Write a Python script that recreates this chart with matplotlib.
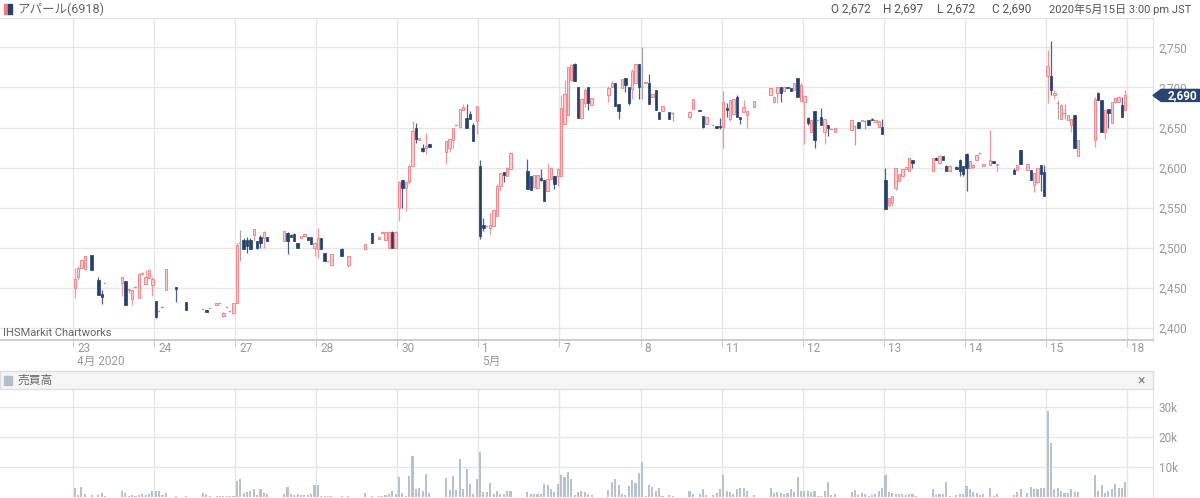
import matplotlib
matplotlib.use("Agg")
import matplotlib.pyplot as plt
from matplotlib.patches import Rectangle, Polygon
from matplotlib.ticker import FuncFormatter

plt.rcParams['font.family'] = ['Roboto', 'Noto Sans CJK JP', 'DejaVu Sans']

W, H = 1200, 498

day_labels = ["23", "24", "27", "28", "30", "1", "7", "8", "11", "12", "13", "14", "15", "18"]
month_labels = {0: "4月 2020", 5: "5月"}
price_ticks = [2400, 2450, 2500, 2550, 2600, 2650, 2700, 2750]
volume_ticks = [10, 20, 30]   # thousands

# 15 minute bars, 10 in the morning and 10 in the afternoon session
# (open, high, low, close), None where nothing traded
apr23 = [(2450, 2475, 2438, 2461), (2463, 2477, 2461, 2475), (2475, 2486, 2474, 2485), (2474, 2490, 2472, 2490), None,
         (2491, 2491, 2472, 2472), None, (2460, 2463, 2441, 2441), (2442, 2448, 2430, 2439), (2456, 2456, 2456, 2456),
         (2456, 2464, 2440, 2464), (2458, 2459, 2429, 2429), (2447, 2448, 2444, 2448), (2436, 2448, 2429, 2447), (2451, 2451, 2451, 2451),
         (2438, 2468, 2438, 2467), (2467, 2470, 2466, 2469), (2455, 2472, 2455, 2463), (2462, 2472, 2462, 2472), (2454, 2464, 2440, 2461)]
apr24 = [(2434, 2434, 2412, 2414), (2421, 2421, 2421, 2421), (2426, 2426, 2426, 2426), (2448, 2474, 2448, 2473), None,
         None, (2451, 2451, 2433, 2449), None, None, (2433, 2433, 2423, 2423),
         (2423, 2423, 2423, 2423), (2422, 2422, 2420, 2420), (2424, 2424, 2424, 2424), None, (2429, 2431, 2429, 2431),
         (2430, 2430, 2430, 2430), (2415, 2420, 2414, 2419), (2425, 2425, 2425, 2425), (2420, 2420, 2420, 2420), (2419, 2431, 2418, 2431)]
apr27 = [(2431, 2506, 2431, 2504), (2505, 2522, 2484, 2505), (2510, 2512, 2498, 2498), (2510, 2514, 2494, 2502), (2510, 2512, 2499, 2499),
         (2516, 2524, 2509, 2524), (2508, 2508, 2498, 2500), (2514, 2516, 2500, 2506), (2512, 2521, 2500, 2520), (2513, 2514, 2509, 2509),
         (2509, 2521, 2509, 2521), (2519, 2520, 2492, 2509), (2516, 2517, 2513, 2513), (2517, 2518, 2509, 2509), (2506, 2506, 2500, 2500),
         (2512, 2515, 2512, 2515), (2515, 2518, 2515, 2517), (2513, 2513, 2510, 2510), (2513, 2514, 2505, 2505), (2500, 2507, 2490, 2506)]
apr28 = [(2498, 2525, 2487, 2512), (2512, 2512, 2498, 2498), (2494, 2494, 2483, 2483), (2483, 2483, 2483, 2483), (2478, 2492, 2478, 2492),
         None, None, (2499, 2500, 2490, 2490), None, (2478, 2490, 2476, 2490),
         (2498, 2505, 2498, 2505), None, (2519, 2519, 2506, 2506), None, (2511, 2513, 2511, 2513),
         (2518, 2521, 2518, 2520), (2510, 2520, 2510, 2520), (2500, 2521, 2500, 2520), (2520, 2521, 2500, 2500), (2500, 2521, 2500, 2520)]
apr30 = [(2550, 2583, 2534, 2582), (2585, 2585, 2550, 2575), (2575, 2582, 2546, 2582), (2582, 2604, 2580, 2602), (2602, 2658, 2602, 2646),
         (2649, 2655, 2631, 2636), (2635, 2637, 2635, 2637), (2624, 2630, 2620, 2621), (2625, 2643, 2617, 2627), (2629, 2630, 2626, 2626),
         (2620, 2633, 2604, 2633), (2625, 2636, 2620, 2636), (2634, 2650, 2625, 2650), (2653, 2653, 2653, 2653), (2650, 2673, 2650, 2673),
         (2672, 2679, 2672, 2676), (2662, 2679, 2649, 2649), (2667, 2670, 2660, 2660), (2653, 2655, 2633, 2633), (2658, 2677, 2642, 2677)]
may01 = [(2602, 2609, 2511, 2515), (2528, 2537, 2521, 2525), (2527, 2527, 2527, 2527), (2525, 2543, 2517, 2529), (2527, 2547, 2527, 2547),
         (2540, 2580, 2540, 2577), (2577, 2593, 2571, 2593), (2594, 2594, 2582, 2591), (2590, 2601, 2589, 2600), (2598, 2619, 2598, 2618),
         (2596, 2611, 2573, 2573), (2590, 2590, 2572, 2572), (2576, 2591, 2576, 2591), (2575, 2591, 2575, 2591), (2587, 2598, 2583, 2584),
         (2584, 2584, 2558, 2558), (2571, 2606, 2571, 2586), (2586, 2599, 2586, 2599), (2590, 2590, 2573, 2579), (2590, 2600, 2577, 2598)]
may07 = [(2590, 2690, 2588, 2674), (2654, 2709, 2654, 2692), (2665, 2726, 2665, 2725), (2709, 2729, 2708, 2728), (2729, 2730, 2708, 2708),
         (2700, 2700, 2662, 2662), (2662, 2685, 2660, 2685), (2680, 2699, 2676, 2697), (2700, 2700, 2672, 2680), (2678, 2687, 2678, 2687),
         (2690, 2702, 2682, 2699), (2700, 2708, 2700, 2706), (2706, 2706, 2677, 2677), (2679, 2679, 2660, 2670), (2699, 2710, 2699, 2710),
         (2712, 2712, 2694, 2703), (2700, 2700, 2678, 2681), (2698, 2723, 2685, 2721), (2706, 2729, 2706, 2729), (2729, 2729, 2685, 2700)]
may08 = [(2700, 2750, 2685, 2700), (2705, 2707, 2705, 2707), (2705, 2717, 2679, 2679), (2688, 2692, 2688, 2692), (2697, 2697, 2672, 2672),
         (2669, 2669, 2660, 2660), (2670, 2677, 2670, 2677), None, (2669, 2669, 2661, 2661), (2668, 2669, 2658, 2668),
         (2663, 2670, 2660, 2669), (2673, 2686, 2673, 2686), None, (2672, 2672, 2670, 2670), (2664, 2664, 2649, 2650),
         (2654, 2663, 2654, 2663), None, (2652, 2652, 2652, 2652), (2652, 2652, 2649, 2649), (2652, 2662, 2648, 2650)]
may11 = [(2650, 2695, 2624, 2682), (2674, 2681, 2663, 2672), (2661, 2684, 2658, 2684), (2667, 2686, 2667, 2686), (2688, 2690, 2663, 2663),
         (2663, 2663, 2654, 2661), (2669, 2684, 2669, 2676), (2665, 2670, 2650, 2670), None, (2676, 2683, 2676, 2683),
         (2691, 2699, 2691, 2699), (2682, 2689, 2680, 2688), (2693, 2701, 2680, 2700), (2700, 2700, 2682, 2693), (2695, 2700, 2695, 2700),
         (2701, 2701, 2699, 2699), (2699, 2699, 2695, 2695), (2697, 2706, 2697, 2706), (2712, 2712, 2688, 2688), (2683, 2706, 2683, 2703)]
may12 = [(2682, 2690, 2630, 2689), (2662, 2663, 2653, 2655), (2645, 2659, 2645, 2659), (2670, 2670, 2624, 2634), (2659, 2659, 2659, 2659),
         (2663, 2674, 2653, 2653), (2645, 2660, 2630, 2660), (2653, 2653, 2639, 2649), (2648, 2648, 2648, 2648), (2645, 2649, 2645, 2649),
         (2647, 2659, 2647, 2659), (2651, 2652, 2628, 2651), (2657, 2657, 2649, 2649), (2658, 2659, 2658, 2659), (2657, 2659, 2648, 2657),
         (2659, 2659, 2653, 2653), (2661, 2662, 2659, 2659), (2657, 2659, 2657, 2659), (2651, 2658, 2651, 2658), (2650, 2661, 2642, 2642)]
may13 = [(2584, 2600, 2549, 2549), (2553, 2562, 2551, 2562), (2556, 2564, 2552, 2564), (2574, 2599, 2572, 2599), (2583, 2592, 2583, 2592),
         (2590, 2598, 2590, 2598), (2598, 2601, 2598, 2601), (2596, 2612, 2596, 2612), (2609, 2609, 2600, 2606), (2607, 2607, 2607, 2607),
         (2596, 2612, 2596, 2612), (2612, 2613, 2610, 2610), (2606, 2614, 2606, 2614), (2614, 2614, 2610, 2610), (2602, 2603, 2596, 2596),
         (2596, 2603, 2596, 2602), None, (2601, 2602, 2598, 2598), (2609, 2611, 2590, 2596), (2602, 2602, 2590, 2592)]
may14 = [(2617, 2618, 2571, 2599), (2600, 2608, 2598, 2608), (2601, 2605, 2598, 2603), (2609, 2616, 2609, 2616), (2617, 2618, 2617, 2617),
         (2602, 2604, 2602, 2604), None, (2603, 2647, 2603, 2610), (2608, 2608, 2606, 2606), (2603, 2605, 2595, 2605),
         (2597, 2599, 2592, 2592), (2597, 2603, 2597, 2603), (2622, 2622, 2605, 2605), None, (2597, 2604, 2597, 2604),
         (2597, 2597, 2585, 2585), (2578, 2593, 2570, 2593), (2582, 2599, 2580, 2599), (2603, 2603, 2571, 2592), (2595, 2603, 2565, 2565)]
may15 = [(2714, 2747, 2681, 2727), (2714, 2758, 2691, 2697), (2690, 2697, 2686, 2693), (2680, 2684, 2660, 2680), (2660, 2679, 2660, 2678),
         (2668, 2679, 2660, 2668), (2659, 2666, 2659, 2666), (2653, 2660, 2645, 2660), (2666, 2666, 2624, 2624), (2614, 2634, 2614, 2634),
         (2634, 2688, 2626, 2686), (2693, 2694, 2684, 2684), (2684, 2684, 2645, 2645), (2645, 2672, 2636, 2672), (2673, 2673, 2649, 2668),
         (2656, 2682, 2656, 2682), (2682, 2688, 2680, 2687), (2682, 2689, 2682, 2688), (2678, 2688, 2663, 2663), (2672, 2697, 2672, 2690)]

# volume per bar, thousands of shares
vol_apr23 = [3.0, 0.5, 3.2, 0.8, 0, 0.5, 0, 0.6, 1.3, 0.3, 1.9, 1.1, 0.3, 0.6, 0.3, 0.6, 0.7, 0.6, 0.9, 1.8]
vol_apr24 = [1.8, 1.7, 0.4, 1.2, 0, 0, 0.3, 0, 0, 0.3, 1.3, 0.7, 0.2, 0, 0.2, 0.2, 0.3, 0.2, 0.2, 0.3]
vol_apr27 = [5.2, 6.0, 1.3, 1.6, 1.8, 2.5, 0.6, 2.5, 1.1, 0.8, 1.0, 3.2, 0.8, 0.5, 0.7, 0.4, 0.4, 0.5, 0.8, 4.0]
vol_apr28 = [4.0, 0.3, 0.3, 0.2, 0.3, 0, 0, 0.2, 0, 0.2, 1.2, 0, 0.2, 0, 0.3, 0.3, 0.5, 1.0, 1.8, 0.9]
vol_apr30 = [6.5, 1.2, 0.3, 6.8, 13.5, 2.6, 2.8, 1.8, 7.5, 1.2, 6.2, 2.2, 6.8, 2.2, 12.5, 2.5, 9.3, 4.2, 1.0, 5.8]
vol_may01 = [15.0, 1.5, 1.6, 4.5, 1.0, 1.8, 1.0, 0.8, 1.9, 1.8, 1.4, 0.8, 0.8, 0.9, 1.0, 4.3, 3.8, 2.6, 1.5, 4.2]
vol_may07 = [7.3, 6.5, 8.3, 5.8, 0.5, 1.5, 2.0, 1.5, 1.0, 0.5, 2.2, 4.8, 6.0, 3.8, 1.0, 0.6, 3.5, 5.5, 4.5, 8.0]
vol_may08 = [11.5, 0.3, 4.0, 3.2, 1.8, 2.8, 0.3, 0, 0.4, 0.3, 1.8, 0.8, 0, 0.8, 2.5, 0.4, 0, 0.4, 1.2, 2.5]
vol_may11 = [7.3, 1.8, 1.6, 1.0, 2.5, 2.7, 2.7, 1.8, 0, 0.5, 2.7, 1.2, 1.5, 1.3, 0.8, 1.3, 2.4, 1.5, 6.5, 2.0]
vol_may12 = [1.7, 2.0, 1.6, 2.0, 0.3, 0.3, 1.8, 4.8, 0.6, 1.0, 1.6, 2.2, 0.6, 1.2, 1.0, 0.3, 0.4, 0.8, 1.8, 2.9]
vol_may13 = [7.3, 1.6, 1.3, 1.0, 1.0, 1.0, 0.4, 0.8, 1.0, 0.2, 2.5, 0.4, 1.0, 0.8, 5.0, 0.3, 0, 0.6, 0.8, 0.8]
vol_may14 = [3.5, 2.4, 1.4, 1.1, 0.6, 0.7, 0, 2.7, 0.3, 1.0, 0.6, 1.6, 2.5, 0, 1.2, 3.3, 2.4, 2.6, 2.8, 3.0]
vol_may15 = [28.5, 17.8, 2.5, 3.0, 1.8, 1.3, 1.1, 2.5, 1.5, 1.6, 7.3, 1.8, 3.8, 1.2, 2.0, 2.5, 4.3, 3.0, 3.0, 5.0]

candles = [apr23, apr24, apr27, apr28, apr30, may01, may07, may08, may11, may12, may13, may14, may15]
volumes = [vol_apr23, vol_apr24, vol_apr27, vol_apr28, vol_apr30, vol_may01, vol_may07,
           vol_may08, vol_may11, vol_may12, vol_may13, vol_may14, vol_may15]

# 9:00-15:00 is 24 quarter hours; 11:30-12:30 lunch slots stay empty
session_slots = list(range(10)) + list(range(14, 24))
SLOTS = 24

UP_FACE, UP_EDGE = '#f8cdd0', '#ec8a91'
DOWN = '#263f6b'
FLAT = '#a5a5a5'
GRID = '#e6e6e6'

# pixel geometry of the original screenshot
px_per_slot = (1127 - 73) / (13 * SLOTS)
xlim = (-73 / px_per_slot, (1153 - 73) / px_per_slot)
px_per_yen = 0.802
ylim = (2750 - (340 - 47.3) / px_per_yen, 2750 - (18 - 47.3) / px_per_yen)


def fx(px):
    return px / W


def fy(py):
    return 1 - py / H


fig = plt.figure(figsize=(W / 100, H / 100), dpi=100)
fig.patch.set_facecolor('white')

# ---------------- price panel
ax = fig.add_axes([0, fy(340), fx(1153), (340 - 18) / H])
ax.set_xlim(*xlim)
ax.set_ylim(*ylim)
ax.set_yticks(price_ticks)
ax.set_xticks([d * SLOTS for d in range(len(day_labels))])
ax.grid(True, color=GRID, lw=1)
ax.set_axisbelow(True)
ax.yaxis.tick_right()
ax.yaxis.set_major_formatter(FuncFormatter(lambda v, p: f"{int(v):,}"))
ax.tick_params(axis='y', length=0, pad=4, labelsize=8.5, labelcolor='#999999')
ax.tick_params(axis='x', direction='out', length=5, color='#cccccc', labelbottom=False)
ax.spines['left'].set_visible(False)
ax.spines['top'].set_color('#e2e2e2')
ax.spines['right'].set_color('#e2e2e2')
ax.spines['bottom'].set_color('#c8c8c8')
ax.spines['bottom'].set_linewidth(1.3)

groups = {'up': ([], [], []), 'down': ([], [], []), 'flat': ([], [], [])}
wicks = {'up': ([], [], []), 'down': ([], [], []), 'flat': ([], [], [])}
vx, vh = [], []
for d, (day, vols) in enumerate(zip(candles, volumes)):
    for k, c in enumerate(day):
        x = d * SLOTS + session_slots[k] + 0.5
        if vols[k] > 0:
            vx.append(x)
            vh.append(vols[k])
        if c is None:
            continue
        o, h, l, cl = c
        kind = 'up' if cl > o else ('down' if cl < o else 'flat')
        lo = min(o, cl)
        hgt = max(abs(cl - o), 1.2)
        if kind == 'flat':
            lo -= 0.6
        groups[kind][0].append(x)
        groups[kind][1].append(lo)
        groups[kind][2].append(hgt)
        if h > l:
            wicks[kind][0].append(x)
            wicks[kind][1].append(l)
            wicks[kind][2].append(h)

wick_col = {'up': '#ee9aa0', 'down': '#4d6188', 'flat': '#a5a5a5'}
for kind, (xs, lows, highs) in wicks.items():
    ax.vlines(xs, lows, highs, color=wick_col[kind], lw=0.9, zorder=2)

xs, lows, hs = groups['up']
ax.bar(xs, hs, bottom=lows, width=0.7, color=UP_FACE, edgecolor=UP_EDGE, linewidth=0.7, zorder=3)
xs, lows, hs = groups['down']
ax.bar(xs, hs, bottom=lows, width=0.7, color=DOWN, edgecolor=DOWN, linewidth=0.5, zorder=3)
xs, lows, hs = groups['flat']
ax.bar(xs, hs, bottom=lows, width=0.7, color=FLAT, edgecolor=FLAT, linewidth=0.3, zorder=3)

# day labels under the price panel
for d, lab in enumerate(day_labels):
    px = 73 + d * SLOTS * px_per_slot
    fig.text(fx(px + 4), fy(348), lab, fontsize=8.5, color='#999999', va='center', ha='left')
    if d in month_labels:
        fig.text(fx(px + 4), fy(361), month_labels[d], fontsize=8.5, color='#999999', va='center', ha='left')

fig.text(fx(3), fy(333), "IHSMarkit Chartworks", fontsize=8, color='#666666', va='center', ha='left')

# header
fig.patches.append(Rectangle((fx(4), fy(14)), fx(4), 10 / H, transform=fig.transFigure, color='#ee7f86'))
fig.patches.append(Rectangle((fx(8), fy(14)), fx(4), 10 / H, transform=fig.transFigure, color=DOWN))
fig.text(fx(17), fy(9), "アパール(6918)", fontsize=9, color='#666666', va='center', ha='left')
for px, s in [(831, "O 2,672"), (883, "H 2,697"), (937, "L 2,672"), (992, "C 2,690")]:
    fig.text(fx(px), fy(9), s, fontsize=8.5, color='#555555', va='center', ha='left')
fig.text(fx(1191), fy(9), "2020年5月15日 3:00 pm JST", fontsize=8, color='#555555', va='center', ha='right')

# last price tag, drawn over the right axis labels as in the original
last = may15[-1][3]
ty = 47.3 + (2750 - last) * px_per_yen
tag = Polygon([(fx(1153), fy(ty)), (fx(1161), fy(ty - 6)), (fx(1200), fy(ty - 6)),
               (fx(1200), fy(ty + 6)), (fx(1161), fy(ty + 6))], closed=True,
              transform=fig.transFigure, color='#2b4470', zorder=5)
fig.patches.append(tag)
fig.text(fx(1182), fy(ty + 0.5), f"{last:,}", fontsize=8.5, color='white', fontweight='bold',
         va='center', ha='center', zorder=6)

# ---------------- volume panel
fig.patches.append(Rectangle((0, fy(389)), fx(1153), 18 / H, transform=fig.transFigure,
                             facecolor='#f5f5f5', edgecolor='#dedede', lw=1))
fig.patches.append(Rectangle((fx(4), fy(385)), fx(8), 9 / H, transform=fig.transFigure, color='#b0bec5'))
fig.text(fx(17), fy(380), "売買高", fontsize=8.5, color='#666666', va='center', ha='left')
fig.text(fx(1141), fy(380), "×", fontsize=10, color='#777777', va='center', ha='center')

axv = fig.add_axes([0, 0, fx(1153), (498 - 389) / H])
axv.set_xlim(*xlim)
axv.set_ylim(-(498 - 496.5) / 3, (496.5 - 389) / 3)
axv.set_yticks(volume_ticks)
axv.set_xticks([d * SLOTS for d in range(len(day_labels))])
axv.grid(True, color=GRID, lw=1)
axv.set_axisbelow(True)
axv.yaxis.tick_right()
axv.yaxis.set_major_formatter(FuncFormatter(lambda v, p: f"{int(v)}k"))
axv.tick_params(axis='y', length=0, pad=4, labelsize=8.5, labelcolor='#999999')
axv.tick_params(axis='x', length=0, labelbottom=False)
for side in ['left', 'top', 'bottom']:
    axv.spines[side].set_visible(False)
axv.spines['right'].set_color('#e2e2e2')
axv.bar(vx, vh, width=0.62, color='#b6c3cc', zorder=3)

fig.savefig("out.png", dpi=100)
